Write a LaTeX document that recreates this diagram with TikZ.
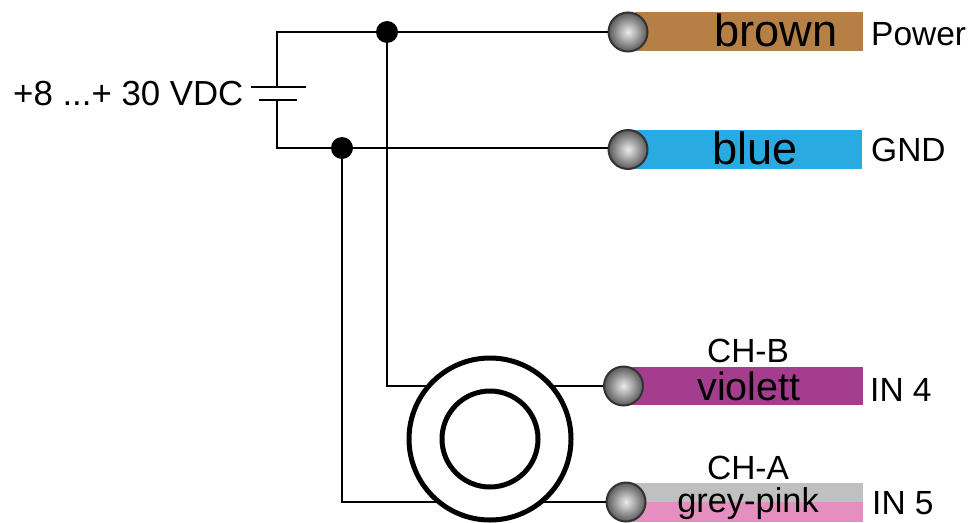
\documentclass[tikz,border=0pt]{standalone}
\usepackage{fontspec}
\setmainfont{Liberation Sans}
\definecolor{wirebrown}{HTML}{B57F45}
\definecolor{wireblue}{HTML}{29ABE2}
\definecolor{wireviolet}{HTML}{A43D8E}
\definecolor{wiregrey}{HTML}{C0C0C0}
\definecolor{wirepink}{HTML}{E58FC0}
\tikzset{
  wire/.style={line width=2.6pt},
  bar/.style={rectangle,inner sep=0pt,anchor=north west},
  ball/.style={circle,draw=black!80,line width=2pt,inner sep=0pt,minimum size=39pt,
    inner color=white!85!gray,outer color=black!65},
  jointdot/.style={circle,fill=black,inner sep=0pt,minimum size=22pt},
  ring/.style={circle,draw=black,fill=white,line width=5pt,inner sep=0pt},
  big/.style={inner sep=0pt,anchor=base,font=\fontsize{45.2}{45.2}\selectfont},
  mid/.style={inner sep=0pt,anchor=base,font=\fontsize{39.5}{39.5}\selectfont},
  small/.style={inner sep=0pt,anchor=base west,font=\fontsize{33.5}{33.5}\selectfont},
  smallmid/.style={inner sep=0pt,anchor=base,font=\fontsize{33.5}{33.5}\selectfont}
}
\begin{document}
\begin{tikzpicture}
  \useasboundingbox (0,0) rectangle (973pt,-522pt);

  \node[bar,fill=wirebrown,minimum width=228pt,minimum height=39pt] (barpower) at (635pt,-12pt) {};
  \node[bar,fill=wireblue,minimum width=227pt,minimum height=39pt] (bargnd) at (635pt,-130pt) {};
  \node[bar,fill=wireviolet,minimum width=233pt,minimum height=38pt] (barb) at (630pt,-367pt) {};
  \node[bar,fill=wiregrey,minimum width=233pt,minimum height=19pt] (bara) at (630pt,-483pt) {};
  \node[bar,fill=wirepink,minimum width=233pt,minimum height=20pt] (barapink) at (630pt,-502pt) {};

  \node[ball] (ballpower) at (628pt,-32pt) {};
  \node[ball] (ballgnd) at (628pt,-149.5pt) {};
  \node[ball] (ballb) at (623.5pt,-386pt) {};
  \node[ball] (balla) at (626pt,-502pt) {};

  \node[jointdot] (dotpower) at (387pt,-32pt) {};
  \node[jointdot] (dotgnd) at (342pt,-148pt) {};

  \coordinate (plateplus) at (277pt,-87pt);
  \coordinate (plateminus) at (277pt,-100pt);
  \coordinate (plusleft) at (251pt,-87pt);
  \coordinate (plusright) at (306pt,-87pt);
  \coordinate (minusleft) at (259pt,-100pt);
  \coordinate (minusright) at (297pt,-100pt);

  \draw[wire] (dotpower) -- (ballpower);
  \draw[wire] (dotgnd) -- (ballgnd.west |- dotgnd);
  \draw[wire] (dotpower) -| (plateplus);
  \draw[wire] (dotgnd) -| (plateminus);
  \draw[wire] (plusleft) -- (plusright);
  \draw[wire] (minusleft) -- (minusright);
  \draw[wire] (dotpower) |- (ballb);
  \draw[wire] (dotgnd) |- (balla);

  \node[ring,minimum size=162pt] (ringouter) at (490pt,-439pt) {};
  \node[ring,minimum size=96pt] (ringinner) at (490pt,-439pt) {};

  \node[big] (txtbrown) at (776pt,-46pt) {brown};
  \node[big] (txtblue) at (755pt,-164pt) {blue};
  \node[mid] (txtviolett) at (749pt,-400pt) {violett};
  \node[smallmid,font=\fontsize{34.4}{34.4}\selectfont] (txtgreypink) at (748pt,-512pt) {grey-pink};
  \node[smallmid] (txtchb) at (748pt,-362pt) {CH-B};
  \node[smallmid] (txtcha) at (748pt,-479pt) {CH-A};
  \node[small] (txtpower) at (871pt,-45pt) {Power};
  \node[small] (txtgnd) at (871pt,-161pt) {GND};
  \node[small] (txtinb) at (870pt,-401pt) {IN 4};
  \node[small] (txtina) at (872pt,-514pt) {IN 5};
  \node[small,font=\fontsize{34.8}{34.8}\selectfont] (txtvolt) at (13pt,-105pt) {+8 ...+ 30 VDC};
\end{tikzpicture}
\end{document}
